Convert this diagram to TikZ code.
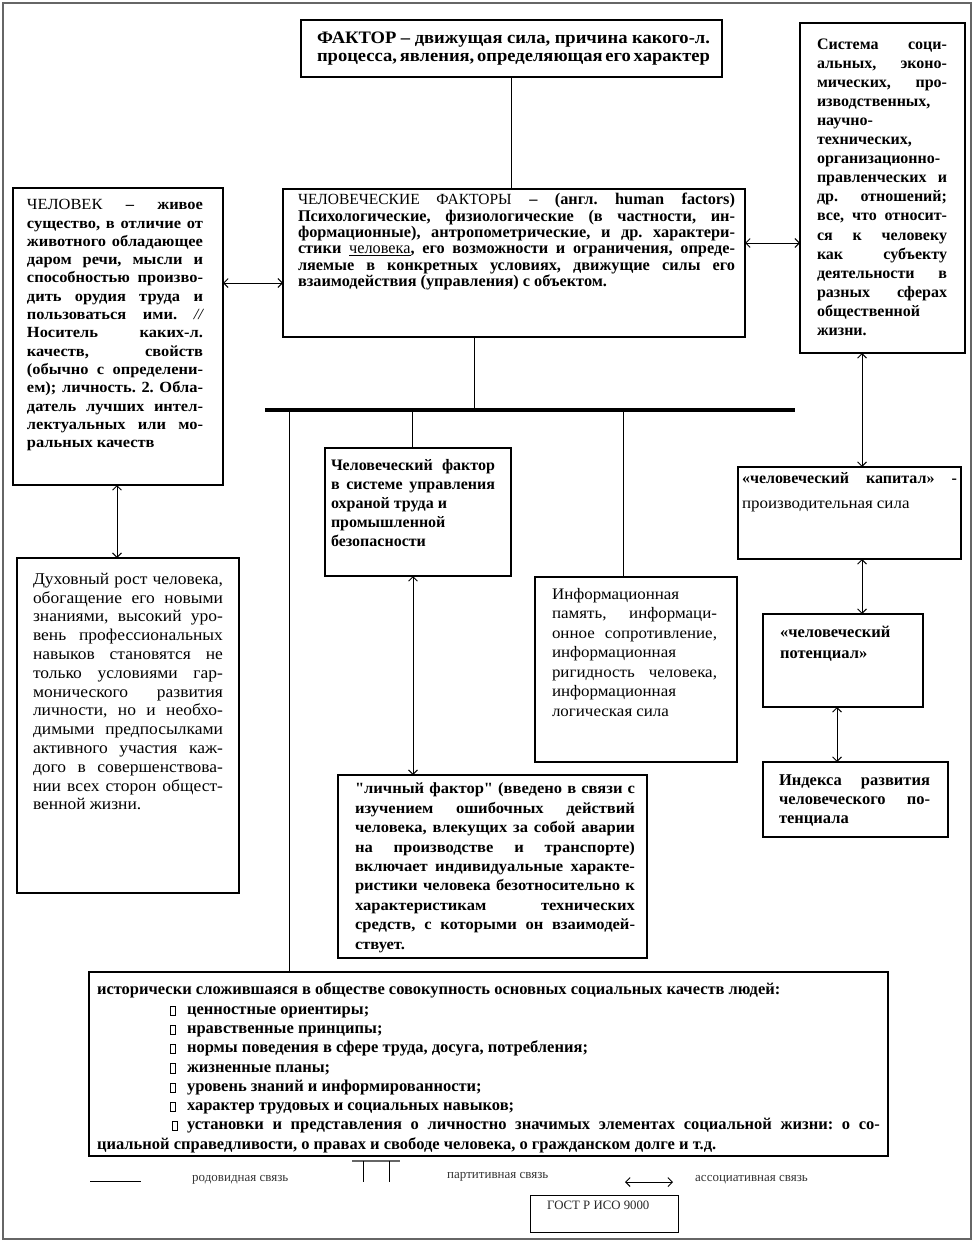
\documentclass[tikz,border=0pt]{standalone}
\usepackage{fontspec}
\setmainfont{Liberation Serif}
\newfontfamily\fB[FakeStretch=1.06]{Liberation Serif}
\usetikzlibrary{arrows.meta}
\setlength\parindent{0pt}
\frenchspacing
\tolerance=10000 \hbadness=10000 \hfuzz=20pt \hyphenpenalty=10000 \exhyphenpenalty=10000
\newcommand\fz[2]{\fontsize{#1}{#2}\selectfont\spaceskip=0.25em plus 1em minus 0.1em\relax}
\newcommand\bul{\raisebox{-0.5pt}{\setlength\fboxsep{0pt}\setlength\fboxrule{0.6pt}\framebox[6pt]{\rule{0pt}{8.5pt}}}}
\begin{document}
\begin{tikzpicture}[x=1pt,y=-1pt,
  box/.style={draw, line width=1.3pt, anchor=north west, inner sep=0pt, outer sep=0pt},
  txt/.style={anchor=north west, inner sep=0pt, outer sep=0pt, align=justify},
  con/.style={line width=0.9pt},
  assoc/.style={line width=0.9pt, {Straight Barb[length=4.5pt,width=9pt]}-{Straight Barb[length=4.5pt,width=9pt]}},
  bus/.style={line width=3.5pt},
  leg/.style={anchor=west, inner sep=0pt, font=\fz{13}{14}, text=black!80}]
\useasboundingbox (0,0) rectangle (974,1242);
\draw[black!60, line width=2pt] (2.5,2.5) rectangle (970.5,1238.5);

% boxes
\node[box, minimum width=421pt, minimum height=57pt] (top) at (301,20) {};
\node[box, minimum width=462pt, minimum height=148pt] (center) at (283,189) {};
\node[box, minimum width=210pt, minimum height=297pt] (left) at (13,188) {};
\node[box, minimum width=165pt, minimum height=330pt] (sys) at (800,23) {};
\node[box, minimum width=222pt, minimum height=335pt] (dux) at (17,558) {};
\node[box, minimum width=186pt, minimum height=128pt] (hf) at (325,448) {};
\node[box, minimum width=202pt, minimum height=185pt] (info) at (535,577) {};
\node[box, minimum width=309pt, minimum height=183pt] (lich) at (338,775) {};
\node[box, minimum width=223pt, minimum height=92pt] (cap) at (738,467) {};
\node[box, minimum width=160pt, minimum height=93pt] (pot) at (763,614) {};
\node[box, minimum width=185pt, minimum height=75pt] (ind) at (763,762) {};
\node[box, minimum width=799pt, minimum height=184pt] (bot) at (89,972) {};
\node[box, line width=1pt, minimum width=148pt, minimum height=37pt] (gost) at (530,1195) {};

% texts
\node[txt, text width=393pt, font=\fB\bfseries\fz{17.5}{18.3}] (topT) at (317,32)
 {ФАКТОР – движущая сила, причина какого-л. \linebreak процесса, явления, определяющая его характер};
\node[txt, text width=437pt, font=\bfseries\fz{16.3}{16.3}] (centerT) at (298,193.5)
 {{\mdseries\fz{15.5}{16.3}ЧЕЛОВЕЧЕСКИЕ ФАКТОРЫ} – (англ. human factors) \linebreak Психологические, физиологические (в частности, ин-\linebreak формационные), антропометрические, и др. характери-\linebreak стики {\mdseries\underline{человека}}, его возможности и ограничения, опреде-\linebreak ляемые в конкретных условиях, движущие силы его \linebreak взаимодействия (управления) с объектом.};
\node[txt, text width=176pt, font=\fB\bfseries\fz{15.5}{18.3}] (leftT) at (27,199.5)
 {{\mdseries ЧЕЛОВЕК} – живое \linebreak существо, в отличие от \linebreak животного обладающее \linebreak даром речи, мысли и \linebreak способностью произво-\linebreak дить орудия труда и \linebreak пользоваться ими. {\mdseries\itshape //} \linebreak Носитель каких-л. \linebreak качеств, свойств \linebreak (обычно с определени-\linebreak ем); личность. 2. Обла-\linebreak датель лучших интел-\linebreak лектуальных или мо-\linebreak ральных качеств};
\node[txt, text width=130pt, font=\bfseries\fz{16}{19.1}] (sysT) at (817,38.5)
 {Система соци-\linebreak альных, эконо-\linebreak мических, про-\linebreak изводственных, \linebreak научно-\newline технических, \newline организационно-\linebreak правленческих и \linebreak др. отношений; \linebreak все, что относит-\linebreak ся к человеку \linebreak как субъекту \linebreak деятельности в \linebreak разных сферах \linebreak общественной \newline жизни.};
\node[txt, text width=190pt, font=\fB\fz{16.5}{18.8}] (duxT) at (33,573)
 {Духовный рост человека, \linebreak обогащение его новыми \linebreak знаниями, высокий уро-\linebreak вень профессиональных \linebreak навыков становятся не \linebreak только условиями гар-\linebreak монического развития \linebreak личности, но и необхо-\linebreak димыми предпосылками \linebreak активного участия каж-\linebreak дого в совершенствова-\linebreak нии всех сторон общест-\linebreak венной жизни.};
\node[txt, text width=164pt, font=\bfseries\fz{16}{19}] (hfT) at (331,459)
 {Человеческий фактор \linebreak в системе управления \linebreak охраной труда и \newline промышленной \newline безопасности};
\node[txt, text width=165pt, font=\fB\fz{16}{19.5}] (infoT) at (552,588)
 {Информационная \newline память, информаци-\linebreak онное сопротивление, \linebreak информационная \newline ригидность человека, \linebreak информационная \newline логическая сила};
\node[txt, text width=280pt, font=\fB\bfseries\fz{15.6}{19.4}] (lichT) at (355,783)
 {"личный фактор" (введено в связи с \linebreak изучением ошибочных действий \linebreak человека, влекущих за собой аварии \linebreak на производстве и транспорте) \linebreak включает индивидуальные характе-\linebreak ристики человека безотносительно к \linebreak характеристикам технических \linebreak средств, с которыми он взаимодей-\linebreak ствует.};
\node[txt, text width=215pt, font=\bfseries\fz{16}{25}] (capT) at (742,472)
 {«человеческий капитал» - \linebreak {\fB\mdseries производительная сила}};
\node[txt, text width=140pt, font=\bfseries\fz{16.5}{21}] (potT) at (780,626)
 {«человеческий \newline потенциал»};
\node[txt, text width=151pt, font=\bfseries\fz{16.5}{19}] (indT) at (779,775)
 {Индекса развития \linebreak человеческого по-\linebreak тенциала};
\node[txt, text width=783pt, font=\bfseries\fz{16.5}{19.3}] (botT) at (97,983)
 {исторически сложившаяся в обществе совокупность основных социальных качеств людей: \newline
 \hspace*{73pt}\makebox[17pt][l]{\bul}ценностные ориентиры; \newline
 \hspace*{73pt}\makebox[17pt][l]{\bul}нравственные принципы; \newline
 \hspace*{73pt}\makebox[17pt][l]{\bul}нормы поведения в сфере труда, досуга, потребления; \newline
 \hspace*{73pt}\makebox[17pt][l]{\bul}жизненные планы; \newline
 \hspace*{73pt}\makebox[17pt][l]{\bul}уровень знаний и информированности; \newline
 \hspace*{73pt}\makebox[17pt][l]{\bul}характер трудовых и социальных навыков; \newline
 \hspace*{75pt}\makebox[15pt][l]{\bul}установки и представления о личностно значимых элементах социальной жизни: о со-\linebreak циальной справедливости, о правах и свободе человека, о гражданском долге и т.д.};
\node[anchor=west, inner sep=0pt, font=\fz{12.8}{14}, text=black!85] (gostT) at (547,1205) {ГОСТ Р ИСО 9000};

% helper coordinates
\coordinate (yLC) at (0,283);
\coordinate (yCR) at (0,243);
\coordinate (xC) at (474,0);
\coordinate (busL) at (265,410);
\coordinate (busR) at (795,410);
\coordinate (x1) at (289,0);
\coordinate (x2) at (412,0);
\coordinate (x3) at (623,0);
\coordinate (xL) at (117,0);
\coordinate (xHF) at (413,0);
\coordinate (xS) at (862,0);
\coordinate (xP) at (837,0);

% connectors
\draw[con] (top.south) -- (top.south |- center.north);
\draw[assoc] (left.east |- yLC) -- (center.west |- yLC);
\draw[assoc] (center.east |- yCR) -- (sys.west |- yCR);
\draw[con] (center.south -| xC) -- (busL -| xC);
\draw[bus] (busL) -- (busR);
\draw[con] (busL -| x1) -- (bot.north -| x1);
\draw[con] (busL -| x2) -- (hf.north -| x2);
\draw[con] (busL -| x3) -- (info.north -| x3);
\draw[assoc] (left.south -| xL) -- (dux.north -| xL);
\draw[assoc] (hf.south -| xHF) -- (lich.north -| xHF);
\draw[assoc] (sys.south -| xS) -- (cap.north -| xS);
\draw[assoc] (cap.south -| xS) -- (pot.north -| xS);
\draw[assoc] (pot.south -| xP) -- (ind.north -| xP);

% legend
\coordinate (g1a) at (90,1181);
\coordinate (g1b) at (141,1181);
\draw[con] (g1a) -- (g1b);
\node[leg] (g1t) at (192,1180) {родовидная связь};
\coordinate (g2a) at (352,1161);
\coordinate (g2b) at (400,1161);
\draw[line width=1.6pt, black!60] (g2a) -- (g2b);
\draw[con] (363,1161) -- (363,1182);
\draw[con] (389,1161) -- (389,1182);
\node[leg] (g2t) at (447,1177) {партитивная связь};
\coordinate (g3a) at (625,1182);
\coordinate (g3b) at (673,1182);
\draw[assoc] (g3a) -- (g3b);
\node[leg] (g3t) at (695,1180) {ассоциативная связь};
\end{tikzpicture}
\end{document}
